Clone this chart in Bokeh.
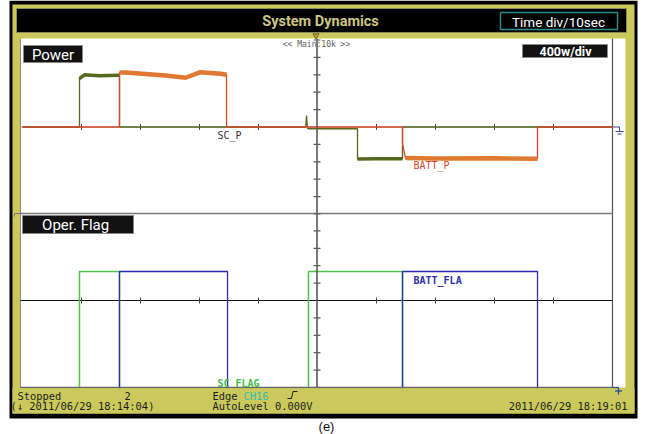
from bokeh.plotting import figure
from bokeh.models import Range1d
from bokeh.core.properties import value
from bokeh.embed import file_html
from bokeh.resources import INLINE

# ---------------- data ----------------
# time in seconds (10 s / div), power in W, flags as logic 0/1
sc_p_t = [0.0, 9.66, 9.66, 10.5, 13.0, 16.44, 16.44, 48.0, 48.14, 48.3, 48.47, 56.78, 56.78, 60.0, 64.41, 64.41, 100.0]
sc_p_w = [0, 0, 557, 600, 590, 595, 0, 0, 132, -15, -20, -20, -368, -364, -366, 0, 0]

batt_p_t = [0.0, 16.44, 16.44, 17.46, 24.24, 27.63, 30.17, 33.56, 34.58, 34.58,
            64.41, 64.41, 64.9, 70.0, 80.0, 87.29, 87.29, 100.0]
batt_p_w = [0, 0, 626, 626, 592, 566, 630, 611, 600, 0,
            0, -190, -355, -362, -360, -365, 0, 0]

sc_flag_t = [0.0, 9.66, 9.66, 16.44, 16.44, 48.47, 48.47, 64.41, 64.41, 100.0]
sc_flag_v = [0, 0, 1, 1, 0, 0, 1, 1, 0, 0]
batt_flag_t = [0.0, 16.44, 16.44, 34.75, 34.75, 64.41, 64.41, 87.29, 87.29, 100.0]
batt_flag_v = [0, 0, 1, 1, 0, 0, 1, 1, 0, 0]

# noisy plateau index spans (start, end inclusive)
sc_p_bands = [(2, 5), (12, 14)]
batt_p_bands = [(2, 8), (12, 15)]

title_text = "System Dynamics"
time_div_text = "Time div/10sec"
power_scale_text = "400w/div"
panel_titles = ["Power", "Oper.  Flag"]
trace_names = ["SC_P", "BATT_P", "SC FLAG", "BATT_FLA"]
zoom_text = "<< Main:10k >>"
status_left = ["Stopped", "2", "(\u2193 2011/06/29 18:14:04)"]
status_mid = ["Edge", "CH16", "AutoLevel 0.000V"]
status_right = "2011/06/29 18:19:01"
caption = "(e)"

# ---------------- layout constants (picture pixel space) ----------------
W, H = 645, 434
LEFT = 0
T0_X, PX_PER_S = 22.0, 5.9          # t = 0 at left grid edge, 59 px per 10 s
PW_ZERO_Y, PX_PER_W = 126.5, 0.087  # 17.4 px per 200 W
FL_LOW_Y, FL_HIGH_Y = 392.0, 271.0
FL_SPAN = FL_LOW_Y - FL_HIGH_Y
GRID_L, GRID_R = 20, 612
PLOT_T, DIV_Y, PLOT_B = 38, 213, 387
CX = 316.5
FZ_Y = 300.0
TICK = 17.4

YELLOW = "#cbc95c"
MONO = value("DejaVu Sans Mono")
SANS = value("Roboto")

p = figure(width=W, height=H, output_backend="svg", toolbar_location=None,
           x_range=Range1d(LEFT, LEFT + W), y_range=Range1d(H, 0),
           x_axis_location=None, y_axis_location=None, min_border=0)
p.outline_line_color = None
p.grid.visible = False
p.background_fill_color = "white"
p.border_fill_color = "white"
p.extra_x_ranges = {"t": Range1d((LEFT - T0_X) / PX_PER_S, (LEFT + W - T0_X) / PX_PER_S)}
p.extra_y_ranges = {
    "pw": Range1d((PW_ZERO_Y - H) / PX_PER_W, PW_ZERO_Y / PX_PER_W),
    "fl": Range1d((FL_LOW_Y - H) / FL_SPAN, FL_LOW_Y / FL_SPAN),
}

# ---------------- frame ----------------
p.quad(left=[9], right=[637], top=[0], bottom=[418], fill_color="black", line_color=None)
p.quad(left=[12], right=[634], top=[4], bottom=[413], fill_color=YELLOW, line_color=None)
p.quad(left=[16], right=[626], top=[8], bottom=[32], fill_color="black", line_color="#8c8a5a", line_width=1)
p.quad(left=[GRID_L], right=[625], top=[PLOT_T], bottom=[PLOT_B], fill_color="white", line_color=None)

p.text(x=[320], y=[20.5], text=[title_text], text_font=SANS, text_font_style="bold",
       text_font_size="14.5px", text_color="#cdc584", text_align="center", text_baseline="middle")
p.quad(left=[500], right=[617], top=[12], bottom=[29], fill_color="black", line_color="#2c8a88", line_width=1.5)
p.text(x=[558], y=[21], text=[time_div_text], text_font=SANS, text_font_size="13.5px",
       text_color="white", text_align="center", text_baseline="middle")

# ---------------- grid ----------------
p.segment(x0=[GRID_L, GRID_R, GRID_L, GRID_L], y0=[PLOT_T, PLOT_T, DIV_Y, PLOT_B],
          x1=[GRID_L, GRID_R, GRID_R, GRID_R], y1=[PLOT_B, PLOT_B, DIV_Y, PLOT_B],
          line_color=["#8a8a8a", "#555555", "#7a7a7a", "#666666"], line_width=[1, 1.2, 1.5, 1.5])
p.segment(x0=[GRID_L], y0=[PW_ZERO_Y], x1=[GRID_R], y1=[PW_ZERO_Y], line_color="#999999", line_width=1)
p.segment(x0=[GRID_L], y0=[FZ_Y], x1=[GRID_R], y1=[FZ_Y], line_color="#111111", line_width=1)
tx = [T0_X + 10 * k * PX_PER_S for k in range(1, 10) if k != 5]
for zy in (PW_ZERO_Y, FZ_Y):
    p.segment(x0=tx, y0=[zy - 3] * len(tx), x1=tx, y1=[zy + 3] * len(tx), line_color="#444444", line_width=1)

# small markers
p.segment(x0=[14, 14], y0=[DIV_Y, DIV_Y], x1=[20, 14], y1=[DIV_Y, DIV_Y + 3], line_color="#777777", line_width=1)
p.segment(x0=[GRID_R, 619, 615, 617], y0=[PW_ZERO_Y, PW_ZERO_Y, 131, 133.5],
          x1=[619, 619, 623, 621], y1=[PW_ZERO_Y, 131, 131, 133.5], line_color="#3a4a8a", line_width=1)

# ---------------- traces ----------------
p.line(sc_p_t, sc_p_w, x_range_name="t", y_range_name="pw", line_color="#56691f", line_width=1.3)
for a, b in sc_p_bands:
    p.line(sc_p_t[a:b + 1], sc_p_w[a:b + 1], x_range_name="t", y_range_name="pw",
           line_color="#56691f", line_width=3.5)
p.line(batt_p_t, batt_p_w, x_range_name="t", y_range_name="pw", line_color="#d8472a", line_width=1.3)
for a, b in batt_p_bands:
    p.line(batt_p_t[a:b + 1], batt_p_w[a:b + 1], x_range_name="t", y_range_name="pw",
           line_color="#e07a32", line_width=4.5)

p.line(sc_flag_t, sc_flag_v, x_range_name="t", y_range_name="fl", line_color="#4cc24c", line_width=1.5)
p.line(batt_flag_t, batt_flag_v, x_range_name="t", y_range_name="fl", line_color="#2b2fae", line_width=1.3)

# trace names
p.text(x=[217], y=[135], text=[trace_names[0]], text_font=MONO, text_font_size="10px",
       text_color="#333333", text_baseline="middle")
p.text(x=[413], y=[165], text=[trace_names[1]], text_font=MONO, text_font_size="10px",
       text_color="#d04a30", text_baseline="middle")
p.text(x=[413], y=[280], text=[trace_names[3]], text_font=MONO, text_font_size="10px",
       text_font_style="bold", text_color="#2b2fae", text_baseline="middle")
p.text(x=[217], y=[383], text=[trace_names[2]], text_font=MONO, text_font_size="10px",
       text_font_style="bold", text_color="#44c044", text_baseline="middle")

# center axis with ticks
p.segment(x0=[CX], y0=[PLOT_T], x1=[CX], y1=[PLOT_B], line_color="#5a5a5a", line_width=1.6)
ty = [PW_ZERO_Y + TICK * k for k in range(-5, 6) if k != 0] + [FZ_Y + TICK * k for k in range(-4, 6) if k != 0]
p.segment(x0=[CX - 3.5] * len(ty), y0=ty, x1=[CX + 3.5] * len(ty), y1=ty, line_color="#5a5a5a", line_width=1.2)
p.scatter(x=[CX - 1], y=[35], marker="inverted_triangle", size=6, fill_color="#b89a3a", line_color="#7a6520")

# ---------------- panel labels ----------------
p.quad(left=[23, 22, 522], right=[82, 133, 607], top=[45, 215, 44], bottom=[62, 233, 57],
       fill_color="#111111", line_color="#8a8a8a", line_width=1)
p.text(x=[52.5, 77], y=[54, 224.5], text=panel_titles, text_font=SANS, text_font_size="15px",
       text_color="white", text_align="center", text_baseline="middle")
p.text(x=[565], y=[50.5], text=[power_scale_text], text_font=SANS, text_font_style="bold",
       text_font_size="12.5px", text_color="white", text_align="center", text_baseline="middle")
p.text(x=[316], y=[44], text=[zoom_text], text_font=MONO, text_font_size="8px",
       text_color="#606060", text_align="center", text_baseline="middle")

# ---------------- status bar ----------------
p.quad(left=[12], right=[634], top=[PLOT_B + 0.8], bottom=[413], fill_color=YELLOW, line_color=None)
p.segment(x0=[GRID_L], y0=[PLOT_B], x1=[GRID_R], y1=[PLOT_B], line_color="#666666", line_width=1.2)
p.segment(x0=[GRID_R, 618, 614.5], y0=[PLOT_B, PLOT_B, 390.5], x1=[618, 618, 621.5], y1=[PLOT_B, 394, 390.5],
          line_color="#2b4aa0", line_width=1.3)

st = dict(text_font=MONO, text_font_size="10.4px", text_color="#1e1e1e", text_baseline="middle")
p.text(x=[17, 124, 10], y=[395.5, 395.5, 405.5], text=status_left, **st)
p.text(x=[212, 212], y=[395.5, 405.5], text=[status_mid[0], status_mid[2]], **st)
p.text(x=[243], y=[395.5], text=[status_mid[1]], text_font=MONO, text_font_size="10.4px",
       text_color="#2fbfb0", text_baseline="middle")
p.line(x=[287, 291, 292.5, 297], y=[398, 398, 391, 391], line_color="#1e1e1e", line_width=1)
p.text(x=[627], y=[405.5], text=[status_right], text_align="right", **st)

p.text(x=[326], y=[433.5], text=[caption], text_font=value("Liberation Sans"), text_font_size="13px",
       text_color="#111111", text_align="center", text_baseline="bottom")

open("out.html", "w").write(file_html(p, INLINE))
